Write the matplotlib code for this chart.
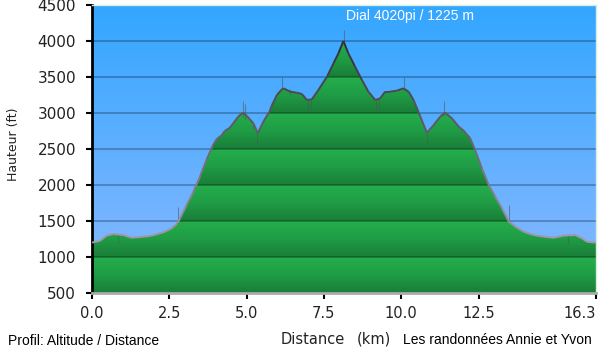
import numpy as np
import matplotlib
matplotlib.use("Agg")
from matplotlib import pyplot as plt
from matplotlib.colors import LinearSegmentedColormap, to_rgb
from matplotlib.collections import LineCollection
from matplotlib.patches import Polygon

# profile: distance (km) / altitude (ft)
dist_km = [0.00, 0.26, 0.47, 0.69, 1.01, 1.28, 1.55, 1.88, 2.09, 2.36, 2.58, 2.76, 2.85,
           3.06, 3.28, 3.50, 3.71, 3.90, 4.03, 4.20, 4.30, 4.44, 4.57, 4.73, 4.88, 5.01,
           5.22, 5.36, 5.54, 5.74, 5.81, 5.98, 6.14, 6.19, 6.41, 6.62, 6.79, 6.95, 7.11,
           7.32, 7.60, 7.81, 7.97, 8.13, 8.29, 8.51, 8.73, 8.94, 9.16, 9.32, 9.48, 9.64,
           9.86, 10.07, 10.24, 10.40, 10.61, 10.83, 11.05, 11.26, 11.42, 11.64, 11.86,
           12.02, 12.23, 12.39, 12.61, 12.83, 13.04, 13.26, 13.48, 13.69, 13.96, 14.28,
           14.61, 14.93, 15.25, 15.63, 15.85, 16.01, 16.30]
alt_ft = [1200, 1226, 1296, 1319, 1305, 1268, 1278, 1292, 1315, 1351, 1398, 1468, 1537,
          1722, 1907, 2125, 2357, 2542, 2635, 2694, 2754, 2788, 2857, 2949, 3004, 2958,
          2857, 2720, 2879, 3018, 3100, 3250, 3329, 3343, 3296, 3282, 3264, 3181, 3190,
          3319, 3504, 3690, 3829, 4000, 3829, 3643, 3458, 3296, 3181, 3204, 3296, 3296,
          3310, 3343, 3296, 3181, 2960, 2726, 2833, 2949, 3004, 2926, 2810,
          2754, 2649, 2486, 2232, 2000, 1838, 1676, 1490, 1421, 1351, 1305,
          1282, 1268, 1296, 1305, 1259, 1213, 1200]

# gps noise spikes: position, low, high
spike_km = [0.85, 2.79, 4.88, 4.95, 5.22, 5.35, 6.16, 6.40, 7.00, 7.08, 8.15,
            9.18, 9.28, 10.10, 10.85, 11.37, 13.48, 15.40]
spike_lo = [1200, 1460, 2950, 2900, 2780, 2580, 3330, 3250, 3020, 3050, 3960,
            3020, 3050, 3330, 2580, 2960, 1490, 1190]
spike_hi = [1310, 1700, 3160, 3120, 2860, 2720, 3500, 3330, 3200, 3200, 4150,
            3190, 3200, 3500, 2730, 3170, 1720, 1300]

xticks = [0, 2.5, 5, 7.5, 10, 12.5, 16.3]
xlabels = ["0.0", "2.5", "5.0", "7.5", "10.0", "12.5", "16.3"]
yticks = [500, 1000, 1500, 2000, 2500, 3000, 3500, 4000, 4500]

xmax = 16.3
ymin, ymax = 500, 4500

fig = plt.figure(figsize=(6, 3.54), dpi=100)
fig.patch.set_facecolor("white")
ax = fig.add_axes([92 / 600, 1 - 293 / 354, 504 / 600, 288 / 354])
ax.set_xlim(0, xmax)
ax.set_ylim(ymin, ymax)

# sky gradient
sky = LinearSegmentedColormap.from_list("sky", ["#8cb9ff", "#33a6ff"])
grad = np.linspace(0, 1, 300).reshape(-1, 1)
ax.imshow(grad, extent=[0, xmax, ymin, ymax], aspect="auto", origin="lower",
          cmap=sky, zorder=0)

# green fill, banded every 500 ft, clipped under the profile
yy = np.linspace(ymin, ymax, 1200)
band = ((yy - ymin) % 500) / 500.0
grn = LinearSegmentedColormap.from_list("grn", ["#1a7d38", "#1f9c45", "#24ae4c"])
im = ax.imshow(band.reshape(-1, 1), extent=[0, xmax, ymin, ymax], aspect="auto",
               origin="lower", cmap=grn, zorder=1, interpolation="bilinear")
verts = list(zip(dist_km, alt_ft)) + [(xmax, ymin), (0, ymin)]
poly = Polygon(verts, closed=True, facecolor="none", edgecolor="none",
               transform=ax.transData)
ax.add_patch(poly)
im.set_clip_path(poly)

for y in yticks[1:-1]:
    ax.axhline(y, color="black", alpha=0.3, lw=1.2, zorder=2)

ax.vlines(spike_km, spike_lo, spike_hi, colors="#555555", alpha=0.55, lw=0.8, zorder=2.5)

# outline, lighter at low altitude and darker toward the top
pts = np.column_stack([dist_km, alt_ft])
segs = np.stack([pts[:-1], pts[1:]], axis=1)
mid = (np.array(alt_ft[:-1]) + np.array(alt_ft[1:])) / 2
t = np.clip((mid - 1200) / 2800, 0, 1)[:, None]
c_lo, c_hi = np.array(to_rgb("#a39aab")), np.array(to_rgb("#2e2e35"))
cols = c_lo * (1 - t) + c_hi * t
ax.add_collection(LineCollection(segs, colors=cols, lw=1.4, zorder=3))

for s in ["top", "right"]:
    ax.spines[s].set_color("#d6efdc")
    ax.spines[s].set_linewidth(1)
ax.spines["left"].set_color("black")
ax.spines["left"].set_linewidth(2)
ax.spines["bottom"].set_color("#aaaaaa")
ax.spines["bottom"].set_linewidth(2)

ax.set_yticks(yticks)
ax.set_xticks(xticks)
ax.set_xticklabels(xlabels)
ax.tick_params(axis="y", direction="out", length=4.5, width=1.5, color="black",
               pad=7, labelsize=11, labelcolor="#222222")
ax.tick_params(axis="x", direction="out", length=4, width=1.5, color="black",
               pad=5, labelsize=10.5, labelcolor="#222222")
last = ax.get_xticklabels()[-1]
last.set_horizontalalignment("right")

fig.text(14 / 600, 1 - 144 / 354, "Hauteur (ft)", rotation=90, ha="center",
         va="center", fontsize=9, color="#222222")
fig.text(410 / 600, 1 - 16 / 354, "Dial 4020pi / 1225 m", ha="center", va="center",
         fontsize=10, color="white", family="Liberation Sans")
fig.text(281 / 600, 1 - 339 / 354, "Distance", ha="left", va="center",
         fontsize=10.5, color="#222222")
fig.text(357 / 600, 1 - 339 / 354, "(km)", ha="left", va="center",
         fontsize=10.5, color="#222222")
fig.text(403 / 600, 1 - 340 / 354, "Les randonnées Annie et Yvon", ha="left",
         va="center", fontsize=10, color="black", family="Liberation Sans")
fig.text(8 / 600, 1 - 341 / 354, "Profil: Altitude / Distance", ha="left",
         va="center", fontsize=10, color="black", family="Liberation Sans")

fig.savefig("out.png", dpi=100)
